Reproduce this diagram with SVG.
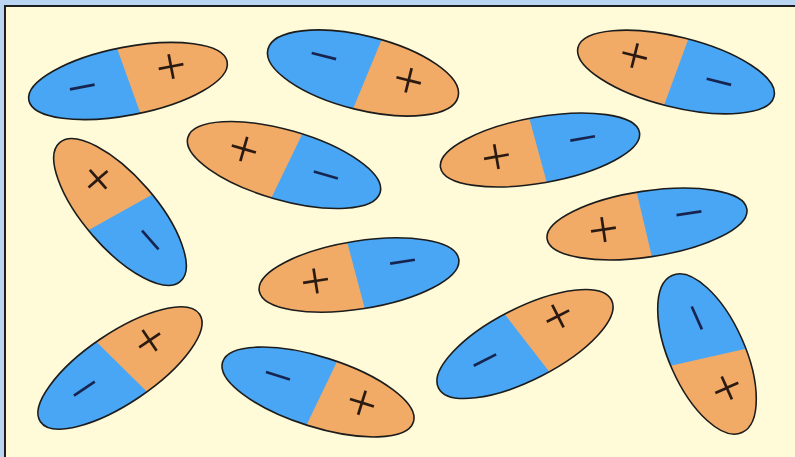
<svg xmlns="http://www.w3.org/2000/svg" width="795" height="457" viewBox="0 0 795 457">
<style>
.blue{fill:#49a6f5}
.orange{fill:#f2ab66}
.outline{fill:none;stroke:#1c1c1c;stroke-width:1.6}
.sign{font-family:"Liberation Serif","Times New Roman",serif;font-size:54px;text-anchor:middle}
.plus{fill:#2a1a12}
.minus{fill:#17244f}
</style>
<rect x="0" y="0" width="795" height="457" fill="#b9d5f2"/>
<rect x="5" y="6" width="800" height="460" fill="#fffbd9" stroke="#1e1e1e" stroke-width="2"/>

<g id="dipole-1" transform="translate(128,81) rotate(-11)">
<ellipse class="blue" rx="101" ry="34"/>
<path class="orange" d="M-4.5,-33.97 A101,34 0 0 1 6,33.94 Z"/>
<ellipse class="outline" rx="101" ry="34"/>
<text class="sign minus" x="-46" y="15">−</text>
<text class="sign plus" x="45" y="12">+</text>
</g>

<g id="dipole-2" transform="translate(363,73) rotate(14)">
<ellipse class="blue" rx="98" ry="37"/>
<path class="orange" d="M10,-36.81 A98,37 0 0 1 -1,37 Z"/>
<ellipse class="outline" rx="98" ry="37"/>
<text class="sign minus" x="-42" y="11">−</text>
<text class="sign plus" x="46" y="14">+</text>
</g>

<g id="dipole-3" transform="translate(676,72) rotate(14)">
<ellipse class="blue" rx="101" ry="35"/>
<path class="orange" d="M-3.5,34.98 A101,35 0 1 1 4,-34.97 Z"/>
<ellipse class="outline" rx="101" ry="35"/>
<text class="sign plus" x="-44" y="12">+</text>
<text class="sign minus" x="44" y="17">−</text>
</g>

<g id="dipole-4" transform="translate(120,212) rotate(49)">
<ellipse class="blue" rx="92" ry="36"/>
<path class="orange" d="M-7,35.9 A92,36 0 1 1 8,-35.86 Z"/>
<ellipse class="outline" rx="92" ry="36"/>
<text class="sign plus" x="-39" y="13">+</text>
<text class="sign minus" x="41" y="13.5">−</text>
</g>

<g id="dipole-5" transform="translate(284,165) rotate(16)">
<ellipse class="blue" rx="100" ry="35"/>
<path class="orange" d="M-3,34.98 A100,35 0 1 1 9,-34.86 Z"/>
<ellipse class="outline" rx="100" ry="35"/>
<text class="sign plus" x="-43" y="13.5">+</text>
<text class="sign minus" x="43" y="16">−</text>
</g>

<g id="dipole-6" transform="translate(540,150) rotate(-10)">
<ellipse class="blue" rx="101" ry="33"/>
<path class="orange" d="M1,33 A101,33 0 0 1 -5,-32.96 Z"/>
<ellipse class="outline" rx="101" ry="33"/>
<text class="sign plus" x="-44" y="17">+</text>
<text class="sign minus" x="44" y="14">−</text>
</g>

<g id="dipole-7" transform="translate(647,224) rotate(-8.5)">
<ellipse class="blue" rx="101" ry="33"/>
<path class="orange" d="M0,33 A101,33 0 0 1 -5.5,-32.95 Z"/>
<ellipse class="outline" rx="101" ry="33"/>
<text class="sign plus" x="-44" y="17">+</text>
<text class="sign minus" x="43" y="13.5">−</text>
</g>

<g id="dipole-8" transform="translate(359,275) rotate(-9)">
<ellipse class="blue" rx="101" ry="34"/>
<path class="orange" d="M0.5,34 A101,34 0 0 1 -6.5,-33.93 Z"/>
<ellipse class="outline" rx="101" ry="34"/>
<text class="sign plus" x="-44" y="17">+</text>
<text class="sign minus" x="45" y="11.5">−</text>
</g>

<g id="dipole-9" transform="translate(120,368) rotate(-34)">
<ellipse class="blue" rx="96" ry="35"/>
<path class="orange" d="M-5,-34.95 A96,35 0 0 1 9,34.85 Z"/>
<ellipse class="outline" rx="96" ry="35"/>
<text class="sign minus" x="-41" y="15">−</text>
<text class="sign plus" x="40" y="11.5">+</text>
</g>

<g id="dipole-10" transform="translate(318,392) rotate(17.5)">
<ellipse class="blue" rx="100" ry="35"/>
<path class="orange" d="M9,-34.86 A100,35 0 0 1 -1,35 Z"/>
<ellipse class="outline" rx="100" ry="35"/>
<text class="sign minus" x="-43" y="14.5">−</text>
<text class="sign plus" x="45" y="15">+</text>
</g>

<g id="dipole-11" transform="translate(525,344) rotate(-27)">
<ellipse class="blue" rx="97" ry="36"/>
<path class="orange" d="M-4.6,-35.96 A97,36 0 0 1 9,35.84 Z"/>
<ellipse class="outline" rx="97" ry="36"/>
<text class="sign minus" x="-43" y="14">−</text>
<text class="sign plus" x="42" y="8">+</text>
</g>

<g id="dipole-12" transform="translate(707,354) rotate(66)">
<ellipse class="blue" rx="86" ry="38"/>
<path class="orange" d="M11,-37.69 A86,38 0 0 1 -4,37.96 Z"/>
<ellipse class="outline" rx="86" ry="38"/>
<text class="sign minus" x="-37" y="12.5">−</text>
<text class="sign plus" x="39" y="13.5">+</text>
</g>
</svg>
